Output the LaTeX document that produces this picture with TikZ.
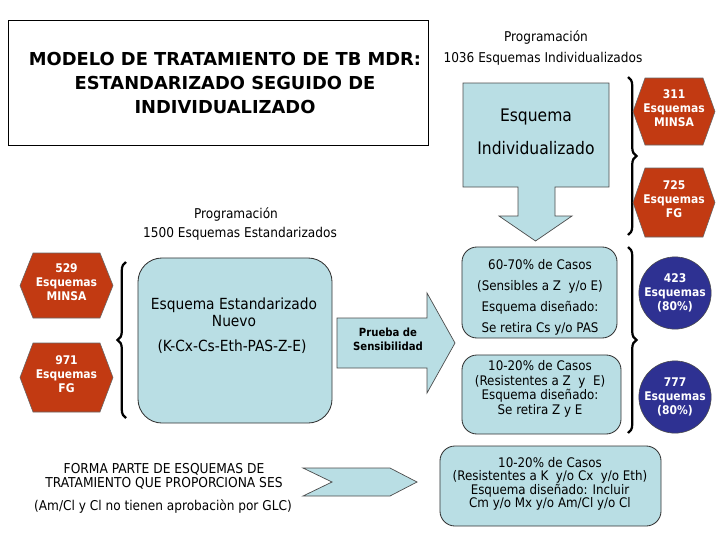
\documentclass[tikz,border=0pt]{standalone}
\usepackage{fontspec}
\setmainfont{DejaVu Sans Condensed}
\newfontfamily\titlefont{DejaVu Sans}
\usepackage{tikz}
\usetikzlibrary{decorations.pathreplacing, positioning}
\definecolor{boxblue}{RGB}{185,222,228}
\definecolor{hexred}{RGB}{194,58,18}
\definecolor{circblue}{RGB}{46,49,146}
\newcommand{\fs}[2]{\fontsize{#1}{#2}\selectfont}

\begin{document}
\begin{tikzpicture}[x=0.025cm, y=-0.025cm,
    bluebox/.style={draw=black!80, fill=boxblue, rounded corners=0.375cm, line width=0.6pt},
    blueshape/.style={draw=black!70, fill=boxblue, line width=0.5pt},
    hexshape/.style={draw=black!60, fill=hexred, line width=0.4pt},
    whitetxt/.style={text=white, font=\bfseries\fs{8.5}{10}, align=center, inner sep=0pt},
    txt/.style={font=\fs{9.6}{11}, align=center, inner sep=0pt},
    bracket/.style={decorate, decoration={brace, amplitude=6pt}, line width=1.6pt}]
    \useasboundingbox (0,0) rectangle (720,540);

    % Title
    \node[draw, line width=0.6pt, minimum width=10.5cm, minimum height=3.125cm] (titlebox) at (218,83) {};
    \node[font=\titlefont\bfseries\fs{12.7}{17}, align=center] (title) at (225,83)
        {MODELO DE TRATAMIENTO DE TB MDR:\\ESTANDARIZADO SEGUIDO DE\\INDIVIDUALIZADO};

    % Top right: individualized scheme
    \node[txt] (progind) at (546,38) {Programación};
    \node[txt] (numind) at (543,59) {1036 Esquemas Individualizados};
    \draw[blueshape] (463,83) -- (609,83) -- (609,187) -- (555,187) -- (555,216) -- (572,216)
        -- (535.5,241) -- (499,216) -- (518,216) -- (518,187) -- (463,187) -- cycle;
    \node[font=\fs{12.3}{14}] (esqind) at (536,117) {Esquema};
    \node[font=\fs{12.3}{14}] (esqind2) at (536,148) {Individualizado};
    \draw[bracket] (628,77) -- (628,235);

    % Hexagons
    \foreach \cx/\cy/\hw/\hh/\fl in {674/111.5/41/33.5/29, 674/202.5/41/34.5/29, 66.5/285.5/46.5/32.5/33.5, 66.5/377.5/46.5/34.5/33.5} {
        \draw[hexshape, shift={(\cx,\cy)}] (-\hw,0) -- (-\fl,-\hh) -- (\fl,-\hh) -- (\hw,0)
            -- (\fl,\hh) -- (-\fl,\hh) -- cycle;
    }
    \node[whitetxt] (h311) at (674,108) {311\\Esquemas\\MINSA};
    \node[whitetxt] (h725) at (674,199) {725\\Esquemas\\FG};
    \node[whitetxt] (h529) at (66.5,282) {529\\Esquemas\\MINSA};
    \node[whitetxt] (h971) at (66.5,374) {971\\Esquemas\\FG};

    % Standardized scheme
    \node[txt] (progstd) at (236,214) {Programación};
    \node[txt] (numstd) at (240,234) {1500 Esquemas Estandarizados};
    \draw[bracket] (126,418) -- (126,262);
    \node[bluebox, rounded corners=0.6cm, minimum width=4.85cm, minimum height=4.125cm] (estd) at (235,340.5) {};
    \node[font=\fs{10.9}{12.3}, align=center] (estdtxt) at (234,312) {Esquema Estandarizado\\Nuevo};
    \node[font=\fs{10.9}{12}] (estdfar) at (232,347) {(K-Cx-Cs-Eth-PAS-Z-E)};

    % Sensitivity test arrow
    \draw[blueshape] (337,318) -- (427,318) -- (427,293) -- (455,343) -- (427,393) -- (427,368)
        -- (337,368) -- cycle;
    \node[font=\bfseries\fs{8}{10}, align=center] (prueba) at (388,339) {Prueba de\\Sensibilidad};

    % Designed schemes
    \node[bluebox, minimum width=3.875cm, minimum height=2.275cm] (casoa) at (539.5,292.5) {};
    \node[font=\fs{9.4}{15}, align=center] (casoatxt) at (540,297)
        {60-70\% de Casos\\(Sensibles a Z\ \ y/o E)\\Esquema diseñado:\\Se retira Cs y/o PAS};
    \node[bluebox, minimum width=3.975cm, minimum height=1.975cm] (casob) at (541.5,394.5) {};
    \node[font=\fs{9.4}{10.3}, align=center] (casobtxt) at (540,389)
        {10-20\% de Casos\\(Resistentes a Z\ \ y\ \ E)\\Esquema diseñado:\\Se retira Z y E};
    \draw[bracket] (628,247) -- (628,433);
    \node[circle, fill=circblue, draw=black!70, minimum size=1.725cm, whitetxt] (c423) at (675,293) {423\\Esquemas\\(80\%)};
    \node[circle, fill=circblue, draw=black!70, minimum size=1.725cm, whitetxt] (c777) at (675,397) {777\\Esquemas\\(80\%)};

    % Bottom row
    \node[txt, font=\fs{9.7}{10}] (forma) at (164,476) {FORMA PARTE DE ESQUEMAS DE\\TRATAMIENTO QUE PROPORCIONA SES};
    \node[txt] (glc) at (163,506) {(Am/Cl y Cl no tienen aprobaciòn por GLC)};
    \draw[blueshape] (303,468) -- (390,468) -- (417,482) -- (390,496) -- (303,496) -- (332,482) -- cycle;
    \node[bluebox, minimum width=5.525cm, minimum height=2cm] (casoc) at (550.5,486) {};
    \node[font=\fs{9.4}{9.2}, align=center] (casoctxt) at (550,484)
        {10-20\% de Casos\\(Resistentes a K\ \ y/o Cx\ \ y/o Eth)\\Esquema diseñado: Incluir\\Cm y/o Mx y/o Am/Cl y/o Cl};
\end{tikzpicture}
\end{document}
